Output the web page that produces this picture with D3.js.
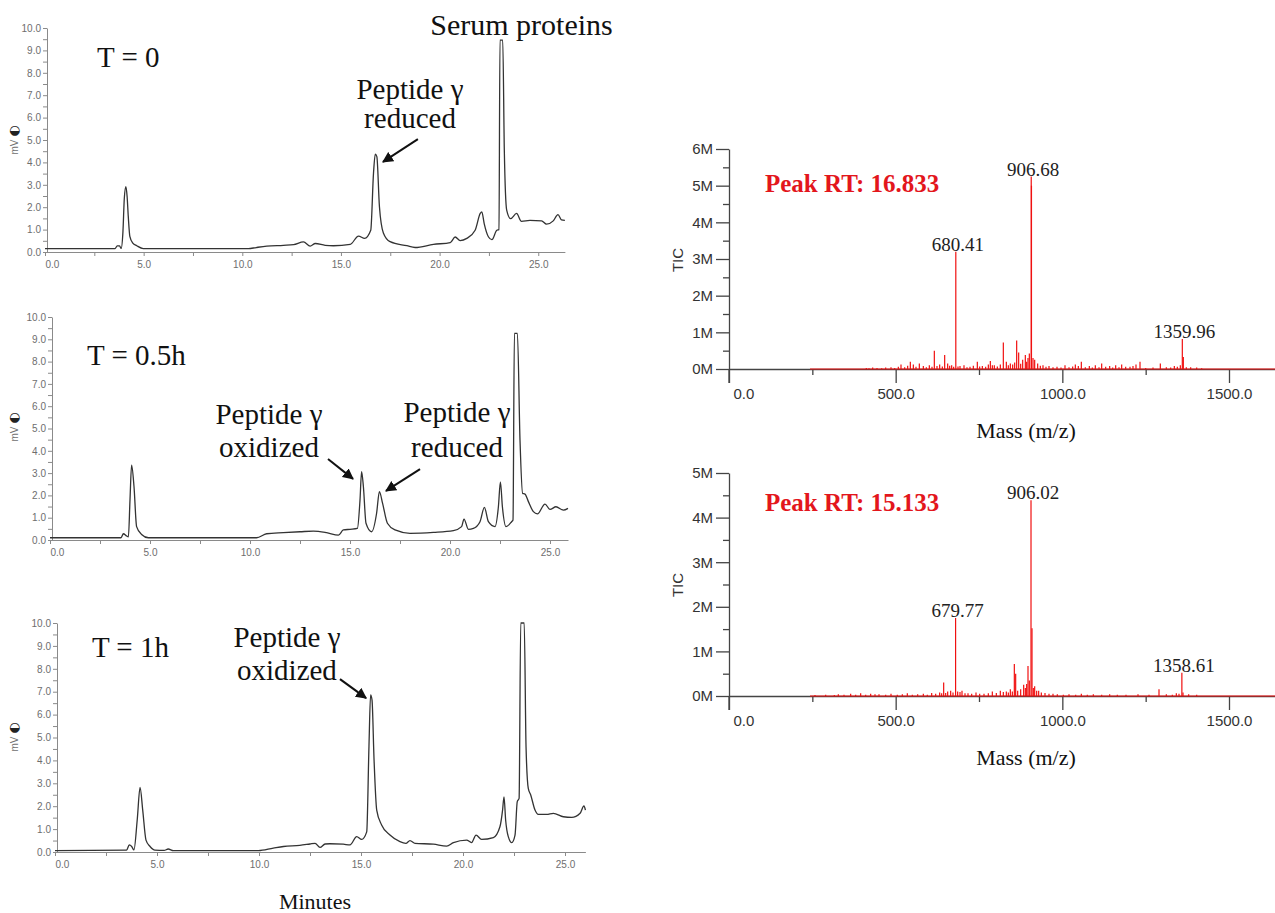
<!DOCTYPE html>
<html>
<head>
<meta charset="utf-8">
<script src="https://cdn.jsdelivr.net/npm/d3@7"></script>
<style>
  body { margin: 0; background: #fff; }
  svg { display: block; }
</style>
</head>
<body>
<svg id="fig" width="1275" height="913"></svg>
<script>
// ---- chromatograms: [minutes, mV] ----
var traceT0 = [[0,0.15],[3.55,0.15],[3.66,0.27],[3.78,0.27],[3.86,0.16],[3.95,0.9],[4.02,2.4],[4.1,2.92],[4.16,2.5],
  [4.22,1.6],[4.3,0.7],[4.45,0.4],[4.65,0.28],[4.98,0.15],[10.3,0.15],[10.7,0.2],[11.24,0.26],[12.08,0.3],[12.6,0.33],
  [13.1,0.45],[13.44,0.26],[13.7,0.38],[14.2,0.3],[14.62,0.28],[15.47,0.34],[15.89,0.71],[16.2,0.61],[16.51,0.97],
  [16.65,3.52],[16.74,4.37],[16.82,4.26],[16.95,2.03],[17.15,0.85],[17.49,0.46],[18.34,0.28],[18.76,0.2],[19.69,0.34],
  [20.54,0.42],[20.79,0.67],[21.04,0.51],[21.38,0.61],[21.8,0.97],[22.06,1.72],[22.14,1.79],[22.26,1.27],[22.48,0.67],
  [22.65,0.55],[22.9,0.97],[23.01,1.0],[23.06,9.46],[23.2,9.46],[23.28,4.55],[23.4,1.87],[23.6,1.49],[23.9,1.72],
  [24.15,1.37],[24.58,1.41],[25.17,1.39],[25.42,1.24],[25.76,1.39],[26.0,1.67],[26.18,1.43],[26.35,1.41]];

var traceT05 = [[0,0.1],[3.55,0.1],[3.67,0.28],[3.83,0.18],[3.92,0.14],[4.0,1.8],[4.08,3.36],[4.2,2.4],[4.33,0.6],
  [4.58,0.25],[4.92,0.1],[10.33,0.1],[10.83,0.28],[11.67,0.33],[12.5,0.37],[13.17,0.4],[13.83,0.33],[14.42,0.22],
  [14.67,0.45],[15.0,0.48],[15.37,0.52],[15.5,1.79],[15.58,3.06],[15.67,2.39],[15.8,0.75],[16.08,0.37],[16.33,1.2],
  [16.47,2.17],[16.63,1.64],[16.87,0.75],[17.25,0.45],[18.0,0.3],[19.17,0.34],[20.17,0.42],[20.58,0.6],[20.7,0.94],
  [20.92,0.48],[21.17,0.52],[21.5,0.82],[21.72,1.46],[21.92,0.82],[22.25,0.6],[22.42,1.49],[22.52,2.61],[22.62,1.49],
  [22.8,0.6],[23.08,0.82],[23.15,0.9],[23.22,9.27],[23.37,9.27],[23.5,4.48],[23.63,2.09],[23.75,2.06],[23.92,1.72],
  [24.17,1.27],[24.37,1.17],[24.75,1.61],[25.0,1.37],[25.3,1.49],[25.67,1.34],[25.9,1.42]];

var traceT1 = [[0,0.06],[3.51,0.08],[3.64,0.31],[3.76,0.24],[3.87,0.09],[4.03,1.4],[4.17,2.82],[4.3,1.83],[4.46,0.52],
  [4.66,0.24],[4.9,0.08],[5.35,0.07],[5.55,0.13],[5.8,0.06],[9.97,0.06],[10.7,0.17],[11.2,0.24],[12.0,0.29],[12.5,0.35],
  [12.75,0.38],[12.99,0.2],[13.24,0.35],[13.48,0.36],[14.13,0.34],[14.46,0.31],[14.79,0.67],[15.03,0.55],[15.28,0.88],
  [15.39,4.6],[15.47,6.86],[15.54,6.64],[15.64,4.02],[15.77,1.83],[16.01,1.18],[16.42,0.74],[16.91,0.45],[17.2,0.38],
  [17.4,0.5],[17.65,0.38],[18.55,0.34],[19.2,0.26],[19.53,0.41],[20.18,0.52],[20.42,0.41],[20.64,0.74],[20.91,0.55],
  [21.49,0.63],[21.81,1.1],[21.94,1.83],[22.01,2.41],[22.09,1.4],[22.22,0.67],[22.39,0.41],[22.55,0.74],[22.66,2.2],
  [22.75,2.34],[22.83,10],[23.0,10],[23.09,4.6],[23.2,2.78],[23.32,2.49],[23.53,1.83],[23.69,1.64],[24.1,1.64],
  [24.43,1.69],[24.92,1.54],[25.33,1.51],[25.74,1.69],[25.93,2.01],[26.0,1.83]];

var minuteTicks = [0, 5, 10, 15, 20, 25];
var mvTicks = [0, 1, 2, 3, 4, 5, 6, 7, 8, 9, 10];

// ---- mass spectra: m/z and TIC (millions) ----
var ms1Mass = [412,420,431,444,458,470,486,497,508,516,527,536,544,553,561,571,583,592,601,609,616,624,632,640,647,656,
  662,668,674,680.41,687,693,705,714,723,733,745,752,760,770,778,784,790,796,805,814,823,832,838,844,851,857,863,869,875,
  881,889,893,897,901,906.68,907.4,912,917,926,934,942,951,960,972,984,996,1008,1020,1031,1039,1048,1057,1069,1081,1090,
  1099,1110,1118,1130,1142,1151,1160,1170,1178,1190,1203,1212,1221,1233,1250,1272,1294,1312,1325,1336,1345,1354,1359.96,
  1363,1372,1385,1403,1418];
var ms1Tic = [0.03,0.02,0.04,0.03,0.02,0.04,0.05,0.03,0.06,0.12,0.05,0.09,0.2,0.12,0.06,0.15,0.08,0.05,0.1,0.06,0.5,0.08,
  0.12,0.07,0.38,0.15,0.09,0.1,0.06,3.2,0.07,0.08,0.1,0.05,0.06,0.09,0.2,0.07,0.08,0.06,0.12,0.22,0.1,0.1,0.07,0.12,0.72,
  0.2,0.1,0.15,0.12,0.18,0.78,0.45,0.14,0.25,0.38,0.2,0.3,0.42,5.25,5.0,0.3,0.25,0.15,0.09,0.1,0.06,0.08,0.05,0.06,0.04,
  0.1,0.05,0.07,0.12,0.08,0.2,0.05,0.08,0.04,0.1,0.05,0.15,0.06,0.08,0.04,0.1,0.05,0.12,0.06,0.06,0.08,0.12,0.2,0.03,0.04,
  0.15,0.05,0.04,0.08,0.06,0.1,0.82,0.33,0.05,0.05,0.04,0.02];
var ms1Peaks = [680.41, 906.68, 1359.96];
var ms1TicTicks = [0, 1, 2, 3, 4, 5, 6];

var ms2Mass = [258,290,316,328,345,365,380,395,410,425,438,450,470,486,505,520,535,550,566,583,595,608,620,632,638,644,
  650,656,665,672,679.77,686,693,699,708,717,728,741,752,765,778,790,802,814,823,832,838,844,850,856,860,866,875,884,889,
  893,897,901,906.02,909,913,917,923,929,937,948,960,972,985,1003,1020,1040,1057,1075,1093,1118,1142,1165,1191,1227,
  1260,1290,1312,1330,1342,1350,1358.61,1362,1379,1403];
var ms2Tic = [0.02,0.03,0.02,0.04,0.03,0.05,0.03,0.06,0.03,0.05,0.04,0.04,0.03,0.05,0.03,0.04,0.06,0.03,0.04,0.05,0.03,
  0.07,0.05,0.08,0.06,0.3,0.07,0.1,0.12,0.08,1.75,0.1,0.09,0.12,0.06,0.06,0.05,0.08,0.05,0.05,0.06,0.1,0.07,0.12,0.09,
  0.1,0.08,0.15,0.1,0.72,0.5,0.12,0.15,0.25,0.18,0.27,0.67,0.35,4.39,1.52,0.18,0.22,0.12,0.12,0.08,0.07,0.05,0.05,0.04,
  0.03,0.04,0.03,0.05,0.03,0.04,0.03,0.04,0.03,0.03,0.04,0.03,0.15,0.04,0.03,0.06,0.05,0.52,0.08,0.04,0.03];
var ms2Peaks = [679.77, 906.02, 1358.61];
var ms2TicTicks = [0, 1, 2, 3, 4, 5];

var massTicks = [0, 500, 1000, 1500];

var serif = '"Liberation Serif", "Times New Roman", serif';
var sans = '"Liberation Sans", Arial, sans-serif';
var narrow = '"Liberation Sans Narrow", "Liberation Sans", Arial, sans-serif';
var svg = d3.select('#fig');

// ---- chromatogram panels ----
var chromPanels = [
  { trace: traceT0, left: 45, pxPerMin: 19.73, tMax: 26.35, base: 252, top: 28, ylab: 140,
    title: { text: 'T = 0', t: 2.64, v: 8.28 },
    notes: [
      { lines: ['Serum proteins'], t: 24.15, v: 9.69, lh: 0, size: 30 },
      { lines: ['Peptide γ', 'reduced'], t: 18.5, v: 6.83, lh: 1.29, arrow: [18.9, 5.04, 17.13, 4.02] }
    ] },
  { trace: traceT05, left: 50, pxPerMin: 20, tMax: 25.9, base: 540, top: 317, ylab: 427,
    title: { text: 'T = 0.5h', t: 1.85, v: 7.85 },
    notes: [
      { lines: ['Peptide γ', 'oxidized'], t: 10.95, v: 5.2, lh: 1.48, arrow: [13.9, 3.63, 15.15, 2.74] },
      { lines: ['Peptide γ', 'reduced'], t: 20.35, v: 5.27, lh: 1.55, arrow: [18.5, 3.18, 16.8, 2.2] }
    ] },
  { trace: traceT1, left: 55, pxPerMin: 20.4, tMax: 26.0, base: 852, top: 623, ylab: 737,
    title: { text: 'T = 1h', t: 1.81, v: 8.52 },
    notes: [
      { lines: ['Peptide γ', 'oxidized'], t: 11.37, v: 8.95, lh: 1.44, arrow: [13.97, 7.55, 15.25, 6.72] }
    ] }
];

svg.append('defs').append('marker')
  .attr('id', 'head')
  .attr('viewBox', '0 0 10 10')
  .attr('refX', 9).attr('refY', 5)
  .attr('markerWidth', 5.5).attr('markerHeight', 5.5)
  .attr('markerUnits', 'strokeWidth')
  .attr('orient', 'auto')
  .append('path')
  .attr('d', 'M0,0 L10,5 L0,10 z')
  .attr('fill', '#111');

chromPanels.forEach(function (p) {
  var x = d3.scaleLinear().domain([0, p.tMax]).range([p.left, p.left + p.tMax * p.pxPerMin]);
  var y = d3.scaleLinear().domain([0, 10]).range([p.base, p.top]);
  var g = svg.append('g');

  var xAxis = g.append('g')
    .attr('transform', 'translate(0,' + p.base + ')')
    .call(d3.axisBottom(x)
      .tickValues(d3.range(0, p.tMax, 2.5))
      .tickSize(4).tickSizeOuter(0).tickPadding(5)
      .tickFormat(function (d) { return minuteTicks.indexOf(d) >= 0 ? d.toFixed(1) : ''; }));
  xAxis.selectAll('text').filter(function (d) { return d === 0; }).attr('text-anchor', 'start');

  var yAxis = g.append('g')
    .attr('transform', 'translate(' + (p.left + 2) + ',0)')
    .call(d3.axisLeft(y)
      .tickValues(d3.range(0, 10.01, 0.5))
      .tickSize(4).tickSizeOuter(0).tickPadding(2)
      .tickFormat(function (d) { return mvTicks.indexOf(d) >= 0 ? d.toFixed(1) : ''; }));

  [xAxis, yAxis].forEach(function (a) {
    a.select('.domain').attr('stroke', '#8a8a8a');
    a.selectAll('line').attr('stroke', '#8a8a8a');
    a.selectAll('text').attr('fill', '#6e6e6e').style('font-family', sans).style('font-size', '10px');
  });

  var ylab = g.append('text')
    .attr('transform', 'translate(18,' + p.ylab + ') rotate(-90)')
    .attr('text-anchor', 'middle')
    .style('font-family', sans).style('font-size', '10px')
    .attr('fill', '#6e6e6e');
  ylab.append('tspan').text('mV ');
  ylab.append('tspan')
    .style('font-family', '"DejaVu Sans", sans-serif').style('font-size', '13px')
    .attr('fill', '#222')
    .text('◐');

  g.append('path')
    .datum(p.trace)
    .attr('fill', 'none')
    .attr('stroke', '#333')
    .attr('stroke-width', 1.3)
    .attr('d', d3.line()
      .x(function (d) { return x(d[0]); })
      .y(function (d) { return y(d[1]); })
      .curve(d3.curveMonotoneX));

  g.append('text')
    .attr('x', x(p.title.t)).attr('y', y(p.title.v))
    .style('font-family', serif).style('font-size', '29px')
    .attr('fill', '#111')
    .text(p.title.text);

  p.notes.forEach(function (n) {
    var t = g.append('text')
      .attr('text-anchor', 'middle')
      .style('font-family', serif).style('font-size', (n.size || 29) + 'px')
      .attr('fill', '#111');
    n.lines.forEach(function (line, i) {
      t.append('tspan')
        .attr('x', x(n.t))
        .attr('y', y(n.v - i * n.lh))
        .text(line);
    });
    if (n.arrow) {
      g.append('line')
        .attr('x1', x(n.arrow[0])).attr('y1', y(n.arrow[1]))
        .attr('x2', x(n.arrow[2])).attr('y2', y(n.arrow[3]))
        .attr('stroke', '#111').attr('stroke-width', 2)
        .attr('marker-end', 'url(#head)');
    }
  });
});

svg.append('text')
  .attr('x', 315).attr('y', 909)
  .attr('text-anchor', 'middle')
  .style('font-family', serif).style('font-size', '22px')
  .attr('fill', '#111')
  .text('Minutes');

// ---- mass spectrum panels ----
var msPanels = [
  { mass: ms1Mass, tic: ms1Tic, peaks: ms1Peaks, ticks: ms1TicTicks, base: 369, top: 149,
    rt: 'Peak RT: 16.833', rtV: 4.83, titleY: 438, ticY: 260 },
  { mass: ms2Mass, tic: ms2Tic, peaks: ms2Peaks, ticks: ms2TicTicks, base: 696, top: 473,
    rt: 'Peak RT: 15.133', rtV: 4.15, titleY: 765, ticY: 585 }
];

msPanels.forEach(function (p) {
  var yMax = p.ticks[p.ticks.length - 1];
  var x = d3.scaleLinear().domain([0, 1638]).range([729, 1275]);
  var y = d3.scaleLinear().domain([0, yMax]).range([p.base, p.top]);
  var g = svg.append('g');

  var xAxis = g.append('g')
    .attr('transform', 'translate(0,' + p.base + ')')
    .call(d3.axisBottom(x)
      .tickValues(d3.range(0, 1638, 250))
      .tickSize(14).tickSizeOuter(0).tickPadding(5)
      .tickFormat(function (d) { return massTicks.indexOf(d) >= 0 ? d.toFixed(1) : ''; }));
  xAxis.selectAll('.tick').filter(function (d) { return massTicks.indexOf(d) < 0; })
    .select('line').attr('y2', 6);
  xAxis.selectAll('text').filter(function (d) { return d === 0; })
    .attr('text-anchor', 'start').attr('x', 4);

  var yAxis = g.append('g')
    .attr('transform', 'translate(729,0)')
    .call(d3.axisLeft(y)
      .tickValues(d3.range(0, yMax + 0.01, 0.5))
      .tickSize(13).tickSizeOuter(0).tickPadding(3)
      .tickFormat(function (d) { return p.ticks.indexOf(d) >= 0 ? d + 'M' : ''; }));
  yAxis.selectAll('.tick').filter(function (d) { return p.ticks.indexOf(d) < 0; })
    .select('line').attr('x2', -6);

  [xAxis, yAxis].forEach(function (a) {
    a.select('.domain').attr('stroke', '#444').attr('stroke-width', 1.3);
    a.selectAll('line').attr('stroke', '#444').attr('stroke-width', 1.3);
    a.selectAll('text').attr('fill', '#333').style('font-family', narrow).style('font-size', '15px');
  });
  // y axis runs down through the 0 tick
  g.append('line')
    .attr('x1', 729).attr('x2', 729)
    .attr('y1', p.base).attr('y2', p.base + 14)
    .attr('stroke', '#444').attr('stroke-width', 1.3);

  // red baseline of the scan range
  g.append('line')
    .attr('x1', x(243)).attr('x2', x(1638))
    .attr('y1', y(0)).attr('y2', y(0))
    .attr('stroke', '#f01010').attr('stroke-width', 1.2);

  g.selectAll('.stick')
    .data(p.mass)
    .enter().append('line')
    .attr('class', 'stick')
    .attr('x1', function (d) { return x(d); })
    .attr('x2', function (d) { return x(d); })
    .attr('y1', y(0))
    .attr('y2', function (d, i) { return y(p.tic[i]); })
    .attr('stroke', '#f01010')
    .attr('stroke-width', 1.2);

  g.selectAll('.peaklab')
    .data(p.peaks)
    .enter().append('text')
    .attr('class', 'peaklab')
    .attr('x', function (d) { return x(d) + 2; })
    .attr('y', function (d) { return y(p.tic[p.mass.indexOf(d)]) - 1; })
    .attr('text-anchor', 'middle')
    .style('font-family', serif).style('font-size', '19px')
    .attr('fill', '#222')
    .text(function (d) { return d.toFixed(2); });

  g.append('text')
    .attr('x', x(108)).attr('y', y(p.rtV))
    .style('font-family', serif).style('font-size', '25px').style('font-weight', 'bold')
    .attr('fill', '#e3161c')
    .text(p.rt);

  g.append('text')
    .attr('transform', 'translate(683,' + p.ticY + ') rotate(-90)')
    .attr('text-anchor', 'middle')
    .style('font-family', narrow).style('font-size', '15px')
    .attr('fill', '#333')
    .text('TIC');

  g.append('text')
    .attr('x', 1026).attr('y', p.titleY)
    .attr('text-anchor', 'middle')
    .style('font-family', serif).style('font-size', '22px')
    .attr('fill', '#111')
    .text('Mass (m/z)');
});
</script>
</body>
</html>
